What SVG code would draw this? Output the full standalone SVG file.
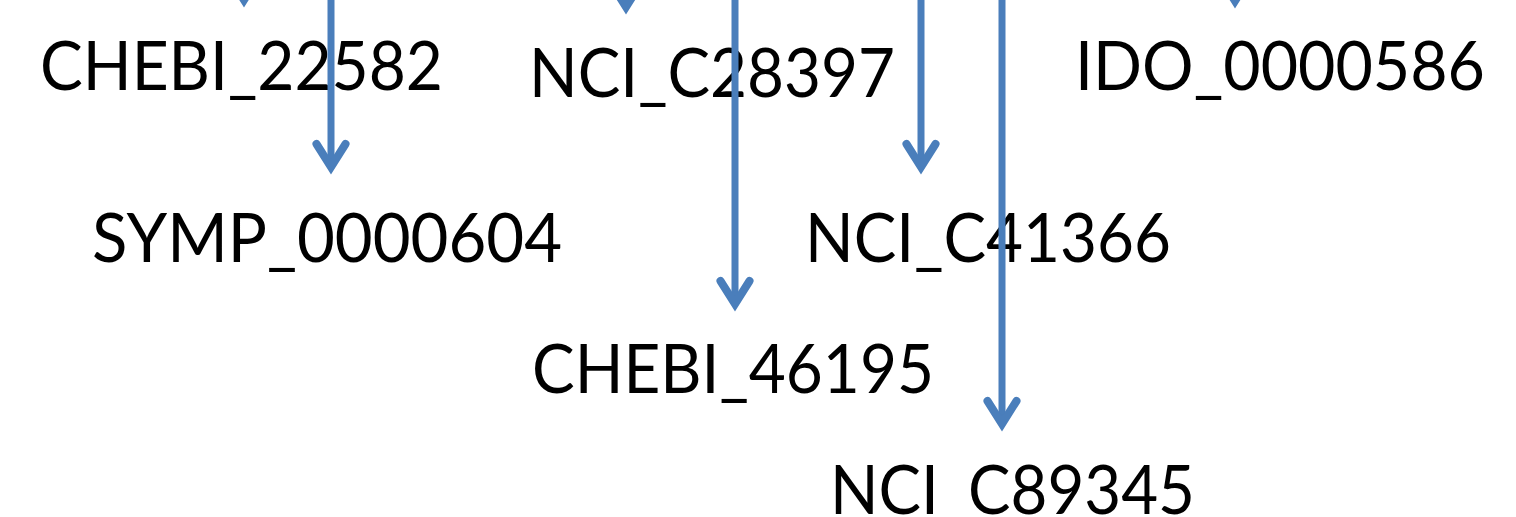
<svg xmlns="http://www.w3.org/2000/svg" width="1516" height="517" viewBox="0 0 1516 517">
  <style>
    .lbl { font-family: "Lato", "Open Sans", "Liberation Sans", sans-serif; font-size: 67px; fill: #000000; }
    .edge { stroke: #4A7EBB; stroke-width: 7; fill: none; marker-end: url(#arr); }
  </style>
  <defs>
    <marker id="arr" markerUnits="userSpaceOnUse" markerWidth="60" markerHeight="60" refX="0" refY="0" orient="auto" overflow="visible" viewBox="-30 -30 60 60">
      <path d="M -23 -14.5 L 0 0 L -23 14.5" fill="none" stroke="#4A7EBB" stroke-width="8" stroke-linecap="round" stroke-linejoin="miter" stroke-miterlimit="10"/>
    </marker>
  </defs>
  <rect x="0" y="0" width="1516" height="517" fill="#ffffff"/>
  <g id="nodes">
    <g id="n-chebi-22582"><text class="lbl" x="40" y="90" textLength="403" lengthAdjust="spacingAndGlyphs">CHEBI_22582</text></g>
    <g id="n-nci-c28397"><text class="lbl" x="529" y="97" textLength="366" lengthAdjust="spacingAndGlyphs">NCI_C28397</text></g>
    <g id="n-ido-0000586"><text class="lbl" x="1075" y="90" textLength="410" lengthAdjust="spacingAndGlyphs">IDO_0000586</text></g>
    <g id="n-symp-0000604"><text class="lbl" x="92" y="262" textLength="470" lengthAdjust="spacingAndGlyphs">SYMP_0000604</text></g>
    <g id="n-nci-c41366"><text class="lbl" x="805" y="262" textLength="366" lengthAdjust="spacingAndGlyphs">NCI_C41366</text></g>
    <g id="n-chebi-46195"><text class="lbl" x="532" y="393" textLength="402" lengthAdjust="spacingAndGlyphs">CHEBI_46195</text></g>
    <g id="n-nci-c89345"><text class="lbl" x="830" y="514" textLength="365" lengthAdjust="spacingAndGlyphs">NCI_C89345</text></g>
  </g>
  <g id="connectors">
    <line class="edge" x1="244" y1="-120" x2="244" y2="0"/>
    <line class="edge" x1="331" y1="-10" x2="331" y2="167"/>
    <line class="edge" x1="626" y1="-120" x2="626" y2="7"/>
    <line class="edge" x1="735" y1="-10" x2="735" y2="304"/>
    <line class="edge" x1="921" y1="-10" x2="921" y2="167"/>
    <line class="edge" x1="1002" y1="-10" x2="1002" y2="424"/>
    <line class="edge" x1="1235" y1="-120" x2="1235" y2="1"/>
  </g>
</svg>
